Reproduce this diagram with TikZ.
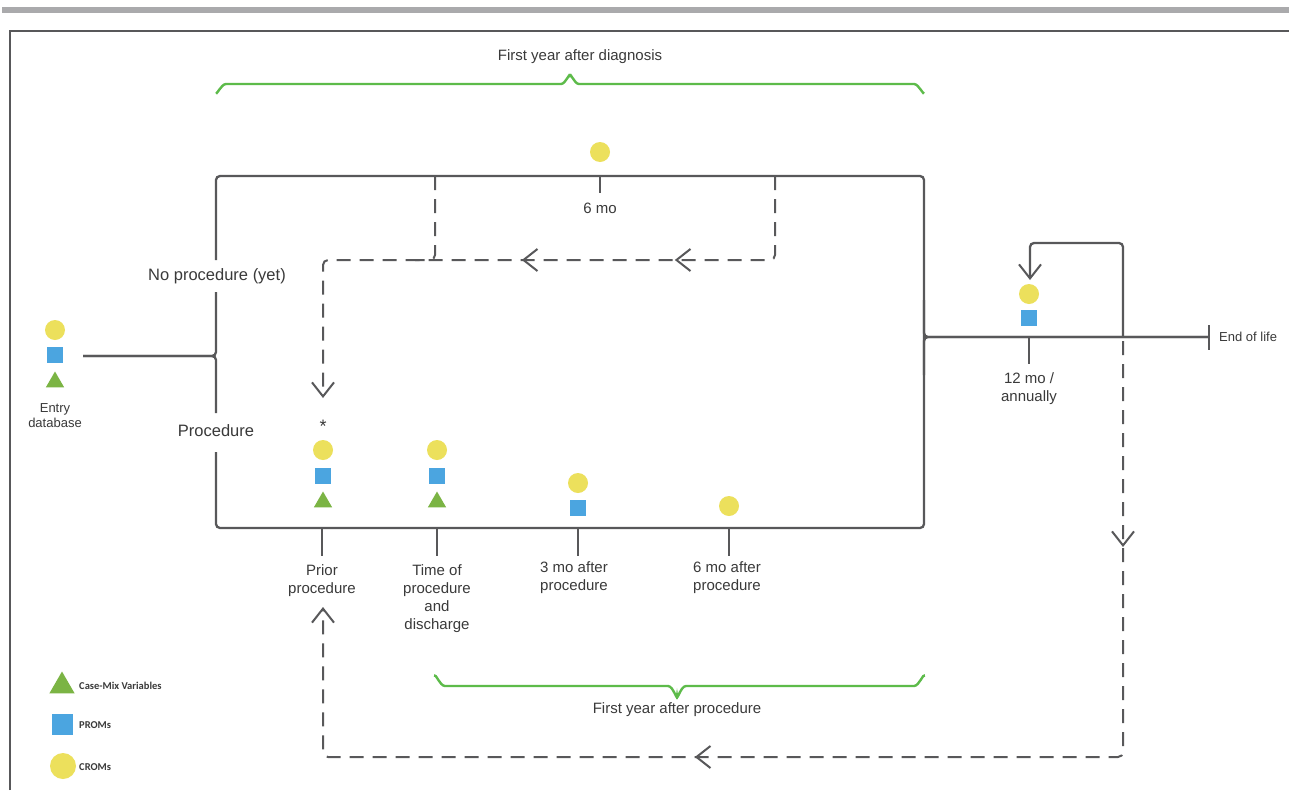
\documentclass[tikz,border=0pt]{standalone}
\usepackage{fontspec}
\setmainfont{Liberation Sans}
\newfontfamily\legendfont{Carlito}
\usetikzlibrary{arrows.meta,decorations.markings,shapes.geometric}
\definecolor{linec}{HTML}{58585A}
\definecolor{textc}{HTML}{3A3A3A}
\definecolor{cromc}{HTML}{ECE05C}
\definecolor{promc}{HTML}{4BA5E0}
\definecolor{cmvc}{HTML}{7BB444}
\definecolor{bracec}{HTML}{5DBB4A}
\definecolor{barc}{HTML}{AAAAAC}
\begin{document}
\begin{tikzpicture}[x=1pt,y=-1pt,
  mainline/.style={draw=linec, line width=2.3pt, rounded corners=4pt},
  tickline/.style={draw=linec, line width=2.5pt},
  dashline/.style={draw=linec, line width=2pt, dash pattern=on 14pt off 9pt, rounded corners=5pt},
  barb/.tip={Straight Barb[length=14pt,width=22pt,line width=2pt]},
  midarrow/.style={postaction={decorate, decoration={markings, mark=at position #1 with {\arrow{barb}}}}},
  brace/.style={draw=bracec, line width=2.4pt},
  crom/.style={circle, fill=cromc, minimum size=20pt, inner sep=0pt},
  prom/.style={rectangle, fill=promc, minimum size=16pt, inner sep=0pt},
  cmv/.style={regular polygon, regular polygon sides=3, fill=cmvc, minimum size=21pt, inner sep=0pt},
  lbl/.style={text=textc, inner sep=1pt, align=center},
  t15/.style={lbl, font=\fontsize{15}{18}\selectfont},
  t16/.style={lbl, font=\fontsize{16.5}{19}\selectfont},
  t13/.style={lbl, font=\fontsize{13}{15}\selectfont},
  leglbl/.style={text=textc, inner sep=0pt, anchor=west, font=\legendfont\bfseries\fontsize{10.5}{12}\selectfont}
]
\useasboundingbox (0,0) rectangle (1289,790);
\fill[white] (0,0) rectangle (1289,790);
% top grey bar and frame
\fill[barc] (2,7) rectangle (1289,13);
\draw[draw=linec, line width=1.4pt] (10,790) -- (10,31) -- (1289,31);

% coordinates
\coordinate (TL) at (216,176);
\coordinate (TR) at (924,176);
\coordinate (BL) at (216,528);
\coordinate (BR) at (924,528);
\coordinate (J) at (216,356);
\coordinate (E) at (83,356);
\coordinate (L1) at (216,260);
\coordinate (L2) at (216,292);
\coordinate (L3) at (216,413);
\coordinate (L4) at (216,452);
\coordinate (JR) at (924,337);
\coordinate (EOL) at (1209,337);
\coordinate (EOLa) at (1209,325);
\coordinate (EOLb) at (1209,350);
\coordinate (LP) at (1123,337);

% main box
\draw[mainline] (L1) -- (TL) -- (TR) -- (BR) -- (BL) -- (L4);
\draw[mainline] (E) -- (J) -- (L2);
\draw[mainline] (E) -- (J) -- (L3);
\draw[mainline] (924,300) -- (JR) -- (EOL);
\draw[mainline] (924,375) -- (JR) -- (EOL);
\draw[tickline] (EOLa) -- (EOLb);

% ticks
\coordinate (k6a) at (600,176); \coordinate (k6b) at (600,193);
\coordinate (p1a) at (322,528); \coordinate (p1b) at (322,556);
\coordinate (p2a) at (437,528); \coordinate (p2b) at (437,556);
\coordinate (p3a) at (578,528); \coordinate (p3b) at (578,556);
\coordinate (p4a) at (729,528); \coordinate (p4b) at (729,556);
\coordinate (k12a) at (1029,337); \coordinate (k12b) at (1029,364);
\draw[tickline] (k6a) -- (k6b);
\draw[tickline] (p1a) -- (p1b);
\draw[tickline] (p2a) -- (p2b);
\draw[tickline] (p3a) -- (p3b);
\draw[tickline] (p4a) -- (p4b);
\draw[tickline] (k12a) -- (k12b);

% dashed paths (no procedure yet)
\coordinate (d6) at (775,176);
\coordinate (d3) at (435,176);
\coordinate (dc) at (323,260);
\coordinate (dend) at (323,398);
\draw[dashline, -{barb}, midarrow=182pt, midarrow=335pt] (d6) -- (775,260) -- (dc) -- (dend);
\draw[dashline] (d3) -- (435,260) -- (415,260);

% annual loop
\draw[mainline, -{barb}] (LP) -- (1123,243) -- (1030,243) -- (1030,280);
\coordinate (rend) at (323,607);
\draw[dashline, -{barb}, midarrow=206pt, midarrow=842pt] (1123,341) -- (1123,757) -- (323,757) -- (rend);

% green braces
\draw[brace] (216,92) to[out=-90,in=180] (226,84) -- (561,84) to[out=0,in=90] (570,76) to[out=90,in=180] (579,84) -- (914,84) to[out=0,in=-90] (924,92);
\draw[brace] (435,677) to[out=90,in=180] (445,686) -- (668,686) to[out=0,in=-90] (677,696) to[out=-90,in=180] (686,686) -- (914,686) to[out=0,in=90] (924,677);
\node[t15] (fyd) at (580,57) {First year after diagnosis};
\node[t15] (fyp) at (677,710) {First year after procedure};

% symbols
\node[crom] (c6) at (600,152) {};
\node[crom] (ce) at (55,330) {};
\node[prom] (pe) at (55,355) {};
\node[cmv] (te) at (55,382) {};
\node[lbl, font=\fontsize{18}{20}\selectfont] (star) at (323,426) {*};
\node[crom] (c1) at (323,450) {};
\node[prom] (q1) at (323,476) {};
\node[cmv] (tr1) at (323,502) {};
\node[crom] (c2) at (437,450) {};
\node[prom] (q2) at (437,476) {};
\node[cmv] (tr2) at (437,502) {};
\node[crom] (c3) at (578,483) {};
\node[prom] (q3) at (578,508) {};
\node[crom] (c4) at (729,506) {};
\node[crom] (c12) at (1029,294) {};
\node[prom] (q12) at (1029,318) {};

% labels
\node[t16] (noproc) at (217,276) {No procedure (yet)};
\node[t16] (proc) at (216,431) {Procedure};
\node[t13] (entry) at (55,416) {Entry\\database};
\node[t15] (l6mo) at (600,208) {6 mo};
\node[t15] (lprior) at (322,581) {Prior\\procedure};
\node[t15] (ltime) at (437,599) {Time of\\procedure\\and\\discharge};
\node[t15] (l3mo) at (574,578) {3 mo after\\procedure};
\node[t15] (l6a) at (727,578) {6 mo after\\procedure};
\node[t15] (l12) at (1029,389) {12 mo /\\annually};
\node[t13, anchor=west] (leol) at (1218,337) {End of life};

% legend
\node[cmv, minimum size=29pt] (lgt) at (62,686) {};
\node[prom, minimum size=21pt] (lgp) at (62,724) {};
\node[crom, minimum size=26pt] (lgc) at (63,766) {};
\node[leglbl] (lgtt) at (79,686) {Case-Mix Variables};
\node[leglbl] (lgpt) at (79,725) {PROMs};
\node[leglbl] (lgct) at (79,767) {CROMs};
\end{tikzpicture}
\end{document}
